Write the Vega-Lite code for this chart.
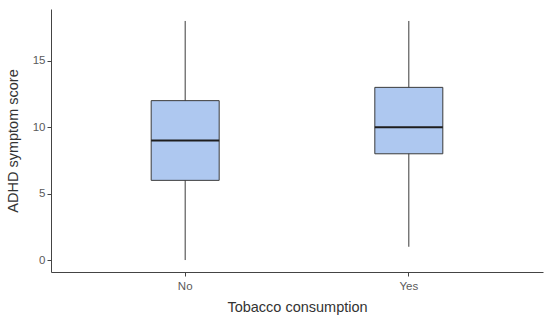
{
  "$schema": "https://vega.github.io/schema/vega-lite/v6.json",
  "autosize": "none",
  "width": 492,
  "height": 263,
  "padding": {"left": 51, "top": 9, "right": 7, "bottom": 49},
  "background": "white",
  "config": {
    "view": {"stroke": null},
    "font": "Liberation Sans"
  },
  "data": {
    "values": [
      {"tobacco": "No", "min": 0, "q1": 6, "median": 9, "q3": 12, "max": 18},
      {"tobacco": "Yes", "min": 1, "q1": 8, "median": 10, "q3": 13, "max": 18}
    ]
  },
  "encoding": {
    "x": {
      "field": "tobacco",
      "type": "nominal",
      "scale": {"paddingInner": 0, "paddingOuter": 0.1},
      "axis": {
        "title": "Tobacco consumption",
        "labelAngle": 0,
        "labelFontSize": 11.5,
        "labelColor": "#5a5a5a",
        "labelPadding": 4,
        "titleFontSize": 14.5,
        "titleFontWeight": "normal",
        "titleColor": "#333333",
        "titlePadding": 9,
        "domainColor": "#444444",
        "tickColor": "#444444",
        "tickSize": 4,
        "grid": false
      }
    }
  },
  "layer": [
    {
      "mark": {"type": "rule", "color": "#3a3a3a", "strokeWidth": 1},
      "encoding": {
        "y": {
          "field": "min",
          "type": "quantitative",
          "scale": {"domain": [-0.9, 18.9], "nice": false, "zero": false},
          "axis": {
            "title": "ADHD symptom score",
            "values": [0, 5, 10, 15],
            "labelFontSize": 11.5,
            "labelColor": "#5a5a5a",
            "labelPadding": 2,
            "titleFontSize": 14.5,
            "titleFontWeight": "normal",
            "titleColor": "#333333",
            "titlePadding": 12,
            "domainColor": "#444444",
            "tickColor": "#444444",
            "tickSize": 4,
            "grid": false
          }
        },
        "y2": {"field": "max"}
      }
    },
    {
      "mark": {"type": "bar", "size": 68, "fill": "#aec8f0", "stroke": "#3a3a3a", "strokeWidth": 1},
      "encoding": {
        "y": {"field": "q1", "type": "quantitative"},
        "y2": {"field": "q3"}
      }
    },
    {
      "mark": {"type": "tick", "size": 68, "thickness": 2, "color": "#1e1e1e", "opacity": 1},
      "encoding": {
        "y": {"field": "median", "type": "quantitative"}
      }
    }
  ]
}
